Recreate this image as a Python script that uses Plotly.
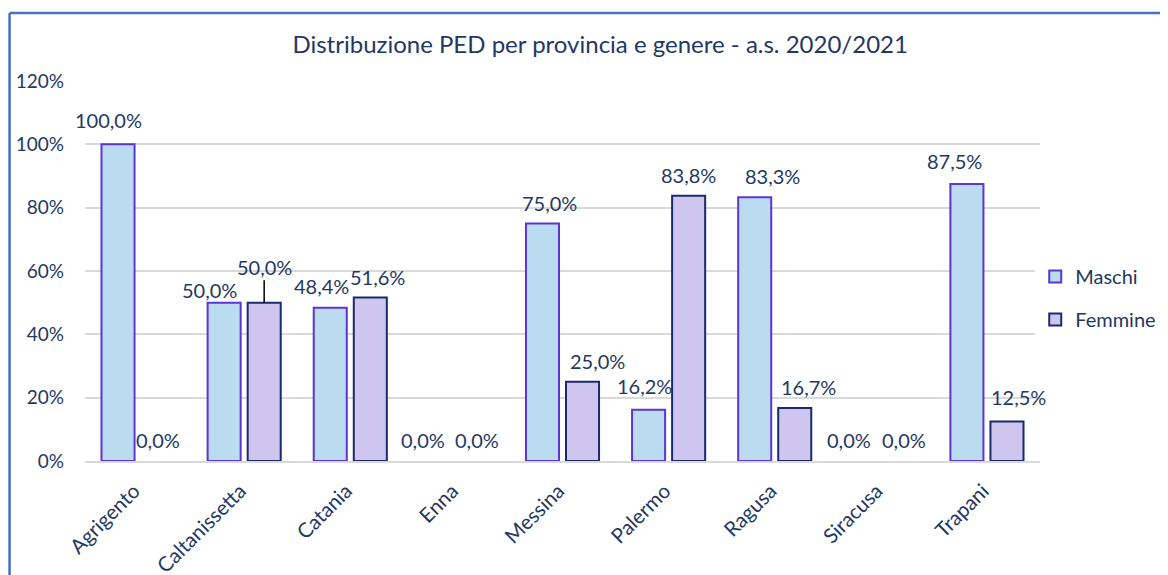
import plotly.graph_objects as go

province = ["Agrigento", "Caltanissetta", "Catania", "Enna", "Messina",
            "Palermo", "Ragusa", "Siracusa", "Trapani"]
maschi = [1.0, 0.5, 0.484, 0.0, 0.75, 0.162, 0.833, 0.0, 0.875]
femmine = [0.0, 0.5, 0.516, 0.0, 0.25, 0.838, 0.167, 0.0, 0.125]
y_ticks = [0, 0.2, 0.4, 0.6, 0.8, 1.0, 1.2]

# label placement (style only, pixel offsets from bar centre / bar top)
lab_dx_m = [-10, -15, -9, -13, 7, -4, 18, -12, -12]
lab_dy_m = [24, 13, 22, 21, 21, 24, 21, 21, 23]
lab_dx_f = [0, 0, 7, 1, 15, 0, 14, 3, 12]
lab_dy_f = [21, 36, 21, 21, 21, 21, 21, 21, 24]

TXT = "#1F3864"
FONT = "Lato"
FS = 19
LFS = 20
BAR_OFF = 20

def shown(vals):
    # Excel draws nothing for zero-height bars
    return [v if v > 0 else None for v in vals]

fig = go.Figure()
fig.add_trace(go.Bar(
    x=province, y=shown(maschi), name="Maschi", legendgroup="m",
    marker=dict(color="#BBDCF0", line=dict(color="#5B35D5", width=2)),
))
fig.add_trace(go.Bar(
    x=province, y=shown(femmine), name="Femmine", legendgroup="f",
    marker=dict(color="#CFC6F0", line=dict(color="#1B2A6B", width=2)),
))

def fmt(v):
    return f"{v*100:.1f}%".replace(".", ",")

annotations = []
for i, p in enumerate(province):
    for val, off, dx, dy in ((maschi[i], -BAR_OFF, lab_dx_m[i], lab_dy_m[i]),
                             (femmine[i], BAR_OFF, lab_dx_f[i], lab_dy_f[i])):
        if p == "Caltanissetta" and off > 0:
            annotations.append(dict(
                x=p, y=val, xref="x", yref="y", text=fmt(val),
                showarrow=True, arrowhead=0, arrowwidth=1.5, arrowcolor="black",
                ax=dx, ay=-dy, xshift=off, standoff=0,
                font=dict(family=FONT, size=LFS, color=TXT)))
        else:
            annotations.append(dict(
                x=p, y=val, xref="x", yref="y", text=fmt(val),
                showarrow=False, xshift=off + dx, yshift=dy, yanchor="middle",
                font=dict(family=FONT, size=LFS, color=TXT)))

fig.update_layout(
    width=1168, height=575,
    paper_bgcolor="white", plot_bgcolor="white",
    margin=dict(l=77, r=136, t=73, b=122, autoexpand=False),
    title=dict(text="Distribuzione PED per provincia e genere - a.s. 2020/2021",
               x=0.507, xanchor="center", y=0.936, yanchor="middle",
               font=dict(family=FONT, size=24, color=TXT)),
    barmode="group", bargap=0.245, bargroupgap=0.175,
    separators=",.",
    font=dict(family=FONT, size=FS, color=TXT),
    xaxis=dict(range=[-0.5, len(province) - 0.5], autorange=False,
               showgrid=False, showline=True, linecolor="#D9D9D9", linewidth=2,
               tickangle=-45, ticks="", ticklabelshift=-4, ticklabelstandoff=8,
               tickfont=dict(family=FONT, size=20.5, color=TXT)),
    yaxis=dict(range=[0, 1.2], tickvals=y_ticks, tickformat=".0%",
               showgrid=True, gridcolor="#D9D9D9", gridwidth=1.5,
               zeroline=False, ticks="", ticklabelstandoff=20,
               tickfont=dict(family=FONT, size=FS, color=TXT)),
    legend=dict(x=0.995, y=0.429, xanchor="left", yanchor="middle",
                font=dict(family=FONT, size=20, color=TXT),
                tracegroupgap=14, traceorder="grouped", itemwidth=30),
    annotations=annotations,
    shapes=[
        dict(type="line", xref="paper", yref="paper", x0=-0.079, x1=1.2, y0=1.179, y1=1.179,
             line=dict(color="#4472C4", width=2.5)),
        dict(type="line", xref="paper", yref="paper", x0=-0.079, x1=-0.079, y0=1.179, y1=-0.4,
             line=dict(color="#4472C4", width=2.5)),
    ],
)

fig.write_html("out.html")
